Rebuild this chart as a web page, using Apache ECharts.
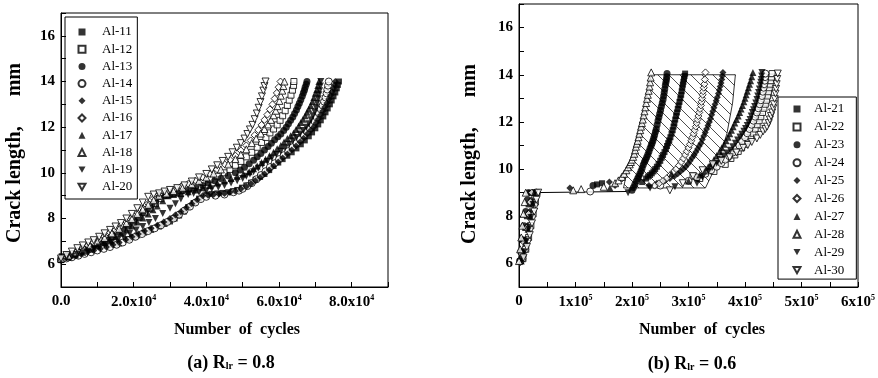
<!DOCTYPE html>
<html>
<head>
<meta charset="utf-8">
<script src="https://cdn.jsdelivr.net/npm/echarts@6/dist/echarts.min.js"></script>
<style>
html,body{margin:0;padding:0;background:#fff;}
#root{width:878px;height:378px;}
</style>
</head>
<body>
<div id="root"></div>
<script>
// x values in 10^3 cycles, y values = crack length in mm

// (a) R = 0.8
var al11 = [[0.2,6.35],[1.8,6.42],[3.3,6.48],[5,6.54],[6.6,6.6],[8.2,6.7],[9.8,6.78],[12.5,6.8],[14.2,6.85],[16,6.9],[18.4,7.1],[19.7,7.18],[21,7.26],[22.9,7.38],[24.8,7.5],[27,7.65],[28.5,7.76],[30,7.87],[31.3,8.0],[32.5,8.13],[33.8,8.3],[35,8.5],[36.5,8.68],[38,8.87],[40,9.05],[41.5,9.07],[43,9.1],[44.5,9.12],[46,9.15],[47.3,9.2],[48.5,9.25],[49.8,9.35],[51,9.45],[52.3,9.57],[53.5,9.7],[54.8,9.82],[56,9.95],[57.3,10.12],[58.5,10.3],[59.8,10.45],[61,10.6],[62.3,10.75],[63.5,10.9],[64.8,11.07],[66,11.25],[67.1,11.42],[68.2,11.6],[69.1,11.77],[70,11.95],[70.8,12.12],[71.5,12.3],[72.2,12.47],[72.8,12.65],[73.4,12.82],[74,13.0],[74.5,13.17],[75,13.35],[75.5,13.52],[75.9,13.7],[76.2,13.85],[76.5,14.0]];
var al12 = [[0,6.2],[2,6.32],[4,6.44],[6,6.58],[8,6.72],[10.5,6.9],[12.5,7.05],[14,7.2],[15.5,7.35],[17,7.5],[18.5,7.68],[20,7.85],[21.5,8.05],[23,8.25],[24.5,8.45],[26,8.65],[27.5,8.87],[29,9.02],[31,9.1],[33,9.22],[35,9.33],[37,9.45],[39,9.58],[41,9.72],[43,9.85],[45,10.0],[46.5,10.15],[48,10.33],[49.5,10.5],[51,10.7],[52.5,10.9],[54,11.12],[55.2,11.33],[56.4,11.55],[57.5,11.75],[58.5,11.92],[59.5,12.1],[60.3,12.3],[61,12.5],[61.7,12.72],[62.3,12.95],[62.8,13.18],[63.3,13.4],[63.7,13.62],[64,13.82],[64.1,14.0]];
var al13 = [[0,6.2],[2,6.35],[3.5,6.45],[5,6.55],[6.5,6.65],[8,6.75],[9.5,6.88],[11,7.0],[12.5,7.12],[14,7.25],[15.5,7.4],[17,7.55],[18.5,7.72],[20,7.9],[21.3,8.07],[22.5,8.25],[23.8,8.42],[25,8.6],[26,8.78],[27,8.95],[28.5,9.0],[30,9.05],[32,9.12],[33.5,9.2],[35.3,9.28],[37,9.35],[39,9.45],[40.5,9.55],[42.3,9.65],[44,9.75],[46,9.87],[48,10.0],[49.3,10.12],[50.5,10.25],[51.8,10.4],[53,10.55],[54,10.7],[55,10.85],[56,11.0],[57,11.15],[57.9,11.3],[58.8,11.45],[59.7,11.58],[60.5,11.7],[61.3,11.85],[62,12.0],[62.6,12.15],[63.2,12.3],[63.8,12.45],[64.3,12.6],[64.8,12.75],[65.2,12.9],[65.6,13.05],[66,13.2],[66.4,13.35],[66.7,13.5],[67,13.62],[67.2,13.75],[67.5,13.88],[67.7,14.0]];
var al14 = [[0,6.2],[1.5,6.25],[3,6.3],[4.8,6.37],[6.5,6.45],[8.3,6.52],[10,6.6],[11.8,6.67],[13.5,6.75],[15.3,6.85],[17,6.95],[18.8,7.07],[20.5,7.2],[22.3,7.32],[24,7.45],[25.8,7.57],[27.5,7.7],[29.3,7.85],[31,8.0],[32.5,8.17],[34,8.35],[35.5,8.52],[37,8.7],[38.5,8.85],[40,8.95],[42.5,9.0],[45,9.05],[47.5,9.15],[49,9.22],[50,9.3],[51.3,9.42],[52.5,9.55],[53.8,9.72],[55,9.9],[56.3,10.07],[57.5,10.25],[58.8,10.42],[60,10.6],[61.3,10.77],[62.5,10.95],[63.7,11.12],[64.8,11.3],[65.8,11.47],[66.8,11.65],[67.7,11.8],[68.5,11.95],[69.2,12.1],[69.8,12.25],[70.4,12.42],[71,12.6],[71.5,12.78],[72,12.95],[72.4,13.12],[72.8,13.3],[73.1,13.48],[73.3,13.65],[73.5,13.82],[73.7,14.0]];
var al15 = [[0,6.2],[2.5,6.3],[4,6.37],[5.5,6.45],[7.3,6.52],[9,6.6],[10.8,6.67],[12.5,6.75],[14.3,6.85],[16,6.95],[17.8,7.07],[19.5,7.2],[21.3,7.32],[23,7.45],[24.8,7.57],[26.5,7.7],[28.3,7.85],[30,8.0],[31.5,8.15],[33,8.3],[34.5,8.47],[36,8.65],[37.5,8.82],[39,9.0],[40.5,9.02],[42,9.05],[43.5,9.07],[45,9.1],[46.5,9.15],[48,9.2],[49.5,9.3],[51,9.4],[52.3,9.52],[53.5,9.65],[54.8,9.8],[56,9.95],[57.3,10.12],[58.5,10.3],[59.8,10.47],[61,10.65],[62.3,10.82],[63.5,11.0],[64.7,11.17],[65.8,11.35],[66.8,11.52],[67.8,11.7],[68.7,11.85],[69.5,12.0],[70.2,12.17],[70.8,12.35],[71.4,12.52],[72,12.7],[72.6,12.87],[73.2,13.05],[73.7,13.22],[74.2,13.4],[74.6,13.55],[75,13.7],[75.3,13.85],[75.5,14.0]];
var al16 = [[0,6.2],[1.5,6.32],[3,6.45],[4.5,6.57],[6,6.7],[7.5,6.82],[9,6.95],[10.5,7.1],[12,7.22],[13.5,7.38],[15,7.5],[16.5,7.68],[18,7.85],[19.5,8.03],[21,8.25],[22.5,8.45],[24,8.65],[25.5,8.88],[27,9.05],[29,9.15],[31,9.25],[33,9.4],[35,9.52],[37,9.66],[39,9.8],[41,9.95],[43,10.15],[45,10.38],[46.5,10.57],[48,10.75],[49.5,10.98],[51,11.2],[52.2,11.42],[53.3,11.65],[54.3,11.88],[55.2,12.1],[56,12.32],[56.8,12.55],[57.5,12.78],[58.2,13.0],[58.8,13.25],[59.4,13.5],[59.9,13.75],[60.4,14.0]];
var al17 = [[0,6.2],[2,6.3],[4,6.4],[6,6.52],[8,6.65],[10,6.8],[12,6.95],[13.5,7.07],[15,7.2],[16.5,7.35],[18,7.5],[19.5,7.67],[21,7.85],[22.5,8.02],[24,8.2],[25.3,8.38],[26.5,8.55],[28,8.78],[29.5,9.0],[31,9.05],[33,9.1],[35,9.17],[37,9.25],[39,9.35],[41,9.45],[43,9.55],[45,9.65],[46.8,9.75],[48.5,9.85],[50.2,9.95],[51.8,10.05],[53,10.18],[54,10.3],[55.2,10.45],[56.3,10.6],[57.4,10.75],[58.5,10.9],[59.5,11.05],[60.5,11.2],[61.4,11.35],[62.3,11.5],[63.2,11.62],[64,11.75],[64.7,11.9],[65.4,12.05],[66,12.2],[66.6,12.35],[67.2,12.5],[67.7,12.65],[68.2,12.8],[68.7,12.95],[69.2,13.12],[69.6,13.3],[70,13.48],[70.4,13.65],[70.7,13.82],[71.0,14.0]];
var al18 = [[0,6.25],[2,6.38],[4,6.52],[6,6.65],[8,6.8],[10,6.98],[12,7.15],[14,7.35],[16,7.55],[18,7.8],[19.5,7.98],[21,8.2],[22.5,8.4],[24,8.6],[25.5,8.8],[27,9.0],[29,9.1],[31,9.2],[33.5,9.35],[36,9.5],[38,9.65],[40,9.8],[42,9.97],[44,10.15],[46,10.37],[48,10.6],[49.5,10.8],[51,11.03],[52.5,11.3],[53.7,11.5],[55,11.72],[56,11.92],[57,12.12],[57.8,12.32],[58.5,12.52],[59.1,12.72],[59.6,12.92],[60.1,13.15],[60.5,13.38],[60.9,13.6],[61.2,13.8],[61.5,14.0]];
var al19 = [[0,6.2],[1.5,6.27],[3,6.35],[4.5,6.42],[6,6.5],[7.5,6.57],[9,6.65],[10.5,6.75],[12,6.85],[13.8,6.95],[15.6,7.05],[17.2,7.2],[18.9,7.35],[20.7,7.5],[22.5,7.65],[24.2,7.82],[26,8.0],[28,8.22],[30,8.45],[31.5,8.65],[33,8.85],[35,9.05],[36.5,9.1],[38,9.15],[40,9.22],[41.5,9.3],[43.3,9.37],[45,9.45],[46.8,9.55],[48.5,9.65],[50,9.75],[51,9.85],[52,9.95],[53,10.05],[54.3,10.2],[55.5,10.35],[56.8,10.5],[58,10.65],[59.3,10.8],[60.5,10.95],[61.7,11.1],[62.8,11.25],[63.8,11.4],[64.8,11.55],[65.8,11.7],[66.7,11.85],[67.5,12.0],[68.2,12.15],[68.8,12.32],[69.3,12.5],[69.8,12.68],[70.2,12.85],[70.5,13.05],[70.8,13.25],[71,13.42],[71.2,13.6],[71.4,13.8],[71.5,14.0]];
var al20 = [[0,6.25],[1.5,6.4],[3,6.55],[4.5,6.7],[6,6.82],[7.5,6.95],[9,7.05],[10.5,7.2],[12,7.35],[13.5,7.5],[15,7.65],[16.5,7.8],[18,8.0],[19.5,8.2],[21,8.45],[22.5,8.7],[24,8.95],[25.5,9.05],[27,9.1],[28.5,9.18],[30,9.25],[32,9.33],[34,9.45],[36,9.62],[38,9.8],[40,9.95],[41.5,10.15],[43,10.33],[44.5,10.52],[46,10.7],[47.2,10.9],[48.4,11.1],[49.5,11.3],[50.5,11.5],[51.3,11.7],[52,11.9],[52.7,12.1],[53.3,12.35],[53.9,12.6],[54.4,12.85],[54.9,13.1],[55.3,13.35],[55.7,13.6],[56,13.8],[56.3,14.0]];

// (b) R = 0.6
var al21 = [[2,6.1],[5,6.5],[8,7.0],[11,7.5],[14,8.0],[17,8.5],[20,9.0],[138,9.35],[147,9.4],[218,9.45],[225,9.6],[228.5,9.68],[232,9.75],[235,9.82],[238,9.9],[241,10.0],[244,10.1],[247,10.22],[250,10.35],[252.5,10.48],[255,10.6],[257.5,10.72],[260,10.85],[262,10.98],[264,11.1],[266,11.22],[268,11.35],[270,11.5],[272,11.65],[273.5,11.8],[275,11.95],[276.5,12.1],[278,12.25],[279.5,12.4],[281,12.55],[282.5,12.7],[284,12.85],[285.5,13.0],[287,13.15],[288,13.3],[289,13.45],[290,13.58],[291,13.7],[292,13.82],[293,13.95],[294,14.05]];
var al22 = [[7,6.2],[12,6.6],[17,7.1],[21,7.6],[25,8.1],[29,8.6],[32,9.0],[308,9.7],[320,9.6],[345,9.9],[356,10.35],[365,10.2],[375,10.45],[382,10.6],[388,10.75],[394,10.9],[400,11.05],[405,11.2],[410,11.35],[414,11.52],[418,11.7],[421.5,11.88],[425,12.05],[428,12.22],[431,12.4],[433.5,12.58],[436,12.75],[438,12.92],[440,13.1],[441.5,13.28],[443,13.45],[444.5,13.6],[446,13.75],[447,13.9],[448,14.05]];
var al23 = [[1,6.1],[3,6.5],[6,7.0],[9,7.6],[12,8.2],[15,8.7],[17,9.0],[131,9.3],[200,9.1],[202.5,9.22],[205,9.35],[207.5,9.48],[210,9.6],[212,9.7],[214,9.8],[216,9.92],[218,10.05],[220,10.18],[222,10.3],[224,10.4],[226,10.5],[228,10.62],[230,10.75],[232,10.88],[234,11.0],[235.5,11.1],[237,11.2],[238.5,11.32],[240,11.45],[241.5,11.58],[243,11.7],[244.5,11.88],[246,12.05],[247.5,12.2],[249,12.35],[250.5,12.5],[252,12.65],[253.5,12.8],[255,12.95],[256,13.1],[257,13.25],[258,13.4],[259,13.55],[260,13.68],[261,13.8],[261.5,13.92],[262,14.05]];
var al24 = [[6,6.2],[11,6.6],[15,7.0],[19,7.5],[23,8.0],[27,8.5],[31,9.0],[126,9.05],[250,9.3],[300,9.5],[315,9.65],[330,9.8],[340,9.95],[350,10.1],[358,10.25],[365,10.4],[372,10.55],[378,10.7],[384,10.85],[390,11.0],[395,11.18],[400,11.35],[404,11.52],[408,11.7],[411.5,11.88],[415,12.05],[418,12.22],[421,12.4],[423.5,12.58],[426,12.75],[428,12.92],[430,13.1],[431.5,13.28],[433,13.45],[434,13.6],[435,13.75],[435.5,13.9],[436,14.05]];
var al25 = [[3,6.1],[7,6.5],[11,7.0],[15,7.6],[19,8.2],[22,8.7],[25,9.0],[90,9.2],[160,9.45],[170,9.3],[230,9.3],[244,9.4],[258,9.5],[267,9.6],[275,9.7],[281,9.8],[286,9.9],[291,10.0],[295,10.1],[299,10.22],[303,10.35],[306.5,10.48],[310,10.6],[313,10.72],[316,10.85],[319,10.98],[322,11.1],[324.5,11.25],[327,11.4],[329.5,11.55],[332,11.7],[334.5,11.85],[337,12.0],[339,12.15],[341,12.3],[343,12.45],[345,12.6],[347,12.75],[349,12.9],[351,13.05],[353,13.2],[354.5,13.35],[356,13.5],[357.5,13.65],[359,13.8],[360,13.95],[361,14.1]];
var al26 = [[2,6.05],[5,6.4],[9,6.9],[13,7.5],[17,8.1],[20,8.6],[23,9.0],[182,9.6],[240,9.3],[248,9.4],[255,9.5],[262,9.62],[268,9.75],[273,9.88],[278,10.0],[283,10.15],[287,10.3],[291,10.45],[294,10.6],[297,10.75],[300,10.9],[302.5,11.05],[305,11.2],[307,11.35],[309,11.5],[311,11.65],[313,11.8],[314.5,11.95],[316,12.1],[317.5,12.25],[319,12.4],[320.5,12.55],[322,12.7],[323,12.85],[324,13.0],[325,13.15],[326,13.3],[327,13.45],[328,13.6],[329,13.8],[330,14.1]];
var al27 = [[4,6.1],[8,6.45],[12,6.9],[16,7.45],[20,8.0],[24,8.55],[27,9.0],[161,9.2],[270,9.8],[300,9.5],[320,9.75],[328,9.92],[335,10.1],[340,10.25],[345,10.4],[350,10.58],[355,10.75],[359,10.9],[363,11.05],[366.5,11.2],[370,11.35],[373,11.5],[376,11.65],[379,11.8],[382,11.95],[385,12.1],[388,12.25],[390.5,12.4],[393,12.55],[395.5,12.7],[398,12.85],[400,13.0],[402,13.15],[404,13.3],[406,13.45],[408,13.6],[410,13.75],[412,13.92],[414,14.1]];
var al28 = [[0,6.1],[2,6.6],[4,7.1],[6,7.6],[8,8.1],[10,8.6],[12,9.0],[96,9.1],[110,9.15],[150,9.25],[170,9.4],[176,9.52],[182,9.67],[186,9.8],[190,9.95],[193,10.08],[196,10.2],[198,10.3],[200,10.4],[202,10.52],[204,10.65],[205.5,10.8],[207,10.95],[208.5,11.08],[210,11.2],[211.5,11.35],[213,11.5],[214.5,11.65],[216,11.8],[217.5,11.95],[219,12.1],[220.5,12.28],[222,12.45],[223.5,12.62],[225,12.8],[226.5,12.98],[228,13.15],[229.5,13.32],[231,13.5],[232,13.68],[233,13.88],[234,14.1]];
var al29 = [[5,6.15],[9,6.5],[13,6.95],[17,7.45],[21,7.95],[25,8.5],[29,9.0],[193,9.0],[232,9.2],[276,9.25],[315,9.4],[325,9.65],[335,9.9],[342,10.07],[350,10.25],[356,10.4],[362,10.55],[368,10.68],[374,10.8],[378.5,10.95],[383,11.1],[387,11.23],[391,11.36],[394.5,11.48],[398,11.6],[401,11.72],[404,11.85],[406.5,11.98],[409,12.1],[411,12.25],[413,12.4],[415,12.52],[417,12.65],[419,12.8],[421,12.95],[422.5,13.1],[424,13.25],[425.5,13.4],[427,13.55],[428,13.68],[429,13.8],[429.5,13.95],[430,14.1]];
var al30 = [[8,6.25],[14,6.7],[19,7.2],[23,7.7],[27,8.2],[31,8.7],[34,9.0],[267,9.1],[290,9.4],[308,9.7],[325,9.95],[343,10.2],[358,10.35],[373,10.5],[385,10.7],[397,10.9],[405,11.02],[412,11.15],[421,11.3],[427,11.45],[432,11.6],[436,11.7],[439,11.8],[442,11.95],[444,12.1],[446,12.25],[448,12.4],[450,12.58],[451,12.75],[452.5,12.98],[454,13.2],[455,13.4],[456,13.6],[457,13.82],[458,14.05]];

var plateauLine = [[20,9.0],[190,9.05]];
var hatchOutline = [[234,14.0],[383,14.0],[378,12.8],[368,11.5],[352,10.3],[330,9.2],[185,9.2],[192,10.0],[202,10.8],[212,11.7],[222,12.7],[230,13.5]];

var leftNames = ['Al-11','Al-12','Al-13','Al-14','Al-15','Al-16','Al-17','Al-18','Al-19','Al-20'];
var leftData = [al11,al12,al13,al14,al15,al16,al17,al18,al19,al20];
var rightNames = ['Al-21','Al-22','Al-23','Al-24','Al-25','Al-26','Al-27','Al-28','Al-29','Al-30'];
var rightData = [al21,al22,al23,al24,al25,al26,al27,al28,al29,al30];

var symbols = ['rect','rect','circle','circle','diamond','diamond','triangle','triangle','path://M0,0L10,0L5,9Z','path://M0,0L10,0L5,9Z'];
var filled = [true,false,true,false,true,false,true,false,true,false];

var leftXTicks = [0,20,40,60,80];
var leftXText = ['0.0','2.0x10','4.0x10','6.0x10','8.0x10'];
var rightXTicks = [0,100,200,300,400,500,600];
var rightXText = ['0','1x10','2x10','3x10','4x10','5x10','6x10'];
var yTicks = [6,8,10,12,14,16];

var serif = '"Liberation Serif", "DejaVu Serif", serif';

var makePattern = function () {
    var c = document.createElement('canvas');
    c.width = 11; c.height = 11;
    var g = c.getContext('2d');
    g.strokeStyle = '#000';
    g.lineWidth = 0.7;
    g.beginPath();
    g.moveTo(-1, -1); g.lineTo(12, 12);
    g.stroke();
    return c;
};

var xLabel = function (ticks, text, exp) {
    return function (v) {
        var i = ticks.indexOf(v);
        if (i < 0) return '';
        return v === 0 ? text[i] : text[i] + '{s|' + exp + '}';
    };
};

var tickStyle = {fontFamily: serif, fontWeight: 'bold', fontSize: 15, color: '#000'};

var xAxisCfg = function (idx, max, interval, fmt) {
    return {
        gridIndex: idx, type: 'value', min: 0, max: max, interval: interval,
        axisLine: {show: true, onZero: false, lineStyle: {color: '#000', width: 1}},
        axisTick: {show: true, inside: true, length: 5, lineStyle: {color: '#000'}},
        splitLine: {show: false},
        axisLabel: Object.assign({margin: 7, formatter: fmt, showMinLabel: true, showMaxLabel: true,
            rich: {s: {fontFamily: serif, fontWeight: 'bold', fontSize: 8, padding: [0, 0, 9, 0]}}}, tickStyle)
    };
};
var yAxisCfg = function (idx) {
    return {
        gridIndex: idx, type: 'value', min: 5, max: 17, interval: 1,
        axisLine: {show: true, onZero: false, lineStyle: {color: '#000', width: 1}},
        axisTick: {show: true, inside: true, length: 5, lineStyle: {color: '#000'}},
        splitLine: {show: false},
        axisLabel: Object.assign({margin: 6, formatter: function (v) {
            return yTicks.indexOf(v) >= 0 ? String(v) : '';
        }}, tickStyle)
    };
};

var series = [];
var addSeries = function (names, data, axisIdx) {
    names.forEach(function (name, i) {
        series.push({
            name: name, type: 'scatter', xAxisIndex: axisIdx, yAxisIndex: axisIdx,
            data: data[i], symbol: symbols[i], symbolSize: symbols[i] === 'rect' ? 6 : 7,
            itemStyle: filled[i] ? {color: '#000'} : {color: '#fff', borderColor: '#000', borderWidth: 1},
            z: 3
        });
    });
};
addSeries(leftNames, leftData, 0);
addSeries(rightNames, rightData, 1);

var hatch = {image: makePattern(), repeat: 'repeat'};
series.push({
    type: 'custom', xAxisIndex: 1, yAxisIndex: 1, data: hatchOutline, z: 1, silent: true,
    renderItem: function (params, api) {
        if (params.dataIndex !== 0) return;
        var pts = hatchOutline.map(function (p) { return api.coord(p); });
        return {type: 'polygon', shape: {points: pts}, style: {fill: hatch, stroke: '#000', lineWidth: 0.8}};
    }
});
series.push({
    type: 'line', xAxisIndex: 1, yAxisIndex: 1, data: plateauLine, symbol: 'none', z: 2,
    lineStyle: {color: '#000', width: 1}
});

var legendCfg = function (names, left, top, gap, pad, textPad) {
    return {
        data: names, orient: 'vertical', left: left, top: top, itemGap: gap,
        itemWidth: 7, itemHeight: 7, padding: pad,
        borderColor: '#000', borderWidth: 1, borderRadius: 0, selectedMode: false,
        textStyle: {fontFamily: serif, fontSize: 13, color: '#000', padding: [0, 0, 0, textPad]}
    };
};

var titleText = function (x, y, text, size, rot) {
    return {
        type: 'text', x: x, y: y, rotation: rot || 0,
        style: {
            text: text, align: 'center', verticalAlign: 'middle',
            font: 'bold ' + size + 'px ' + serif, fill: '#000',
            rich: {sub: {font: 'bold 10px ' + serif, fill: '#000', padding: [7, 0, 0, 0]}}
        }
    };
};

var chart = echarts.init(document.getElementById('root'));
chart.setOption({
    animation: false,
    backgroundColor: '#fff',
    grid: [
        {left: 61, top: 13, width: 327, height: 274, show: true, borderColor: '#000', borderWidth: 1},
        {left: 519, top: 4, width: 339, height: 283, show: true, borderColor: '#000', borderWidth: 1}
    ],
    xAxis: [
        xAxisCfg(0, 90, 10, xLabel(leftXTicks, leftXText, 4)),
        xAxisCfg(1, 600, 50, xLabel(rightXTicks, rightXText, 5))
    ],
    yAxis: [yAxisCfg(0), yAxisCfg(1)],
    legend: [
        legendCfg(leftNames, 65, 17, 4.2, [8.5, 5, 5.7, 12.5], 11.5),
        legendCfg(rightNames, 778, 97, 4.9, [5.5, 12, 2.5, 14.5], 8.5)
    ],
    graphic: [
        titleText(15, 153, 'Crack length,      mm', 20, Math.PI / 2),
        titleText(470, 154, 'Crack length,      mm', 20, Math.PI / 2),
        titleText(237, 330, 'Number  of  cycles', 16),
        titleText(702, 330, 'Number  of  cycles', 16),
        titleText(231, 363, '(a) R{sub|lr} = 0.8', 18),
        titleText(692, 364, '(b) R{sub|lr} = 0.6', 18)
    ],
    series: series
});
</script>
</body>
</html>
